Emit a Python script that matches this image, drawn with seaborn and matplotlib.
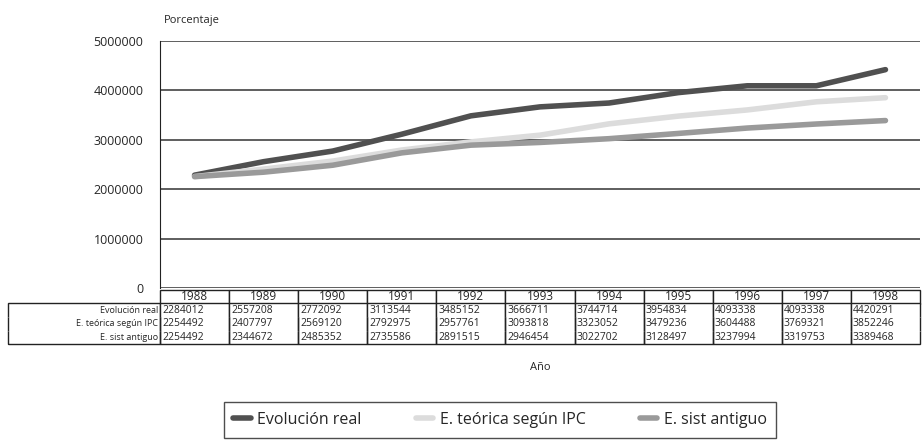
import pandas as pd
import numpy as np
import matplotlib
matplotlib.use('Agg')
import matplotlib.pyplot as plt
import seaborn as sns

# Data
years = ['1988', '1989', '1990', '1991', '1992', '1993', '1994', '1995', '1996', '1997', '1998']
evolucion_real = [2284012, 2557208, 2772092, 3113544, 3485152, 3666711, 3744714, 3954834, 4093338, 4093338, 4420291]
teorica_ipc = [2254492, 2407797, 2569120, 2792975, 2957761, 3093818, 3323052, 3479236, 3604488, 3769321, 3852246]
sist_antiguo = [2254492, 2344672, 2485352, 2735586, 2891515, 2946454, 3022702, 3128497, 3237994, 3319753, 3389468]
series_names = ['Evolución real', 'E. teórica según IPC', 'E. sist antiguo']
series_colors = ['#505050', '#dcdcdc', '#9a9a9a']

df = pd.DataFrame({'year': years,
                   series_names[0]: evolucion_real,
                   series_names[1]: teorica_ipc,
                   series_names[2]: sist_antiguo})
df['pos'] = range(len(years))
long_df = df.melt(id_vars=['year', 'pos'], var_name='serie', value_name='valor')

sns.set_style('white')
plt.rcParams['font.family'] = ['Open Sans', 'DejaVu Sans']

fig = plt.figure(figsize=(9.23, 4.41), dpi=100)
ax = fig.add_axes([160 / 923, 1 - 288 / 441, 760 / 923, 247 / 441])

sns.lineplot(data=long_df, x='pos', y='valor', hue='serie', palette=series_colors,
             hue_order=series_names, linewidth=4, ax=ax, legend=False)

ax.set_xlim(-0.5, len(years) - 0.5)
ax.set_ylim(0, 5000000)
ax.set_yticks(np.arange(0, 5000001, 1000000))
ax.set_yticklabels([str(v) for v in range(0, 5000001, 1000000)], fontsize=9)
ax.set_xticks([])
ax.set_xlabel('')
ax.set_ylabel('')
ax.grid(axis='y', color='#333333', linewidth=1.1)
for side in ['top', 'right', 'bottom']:
    ax.spines[side].set_visible(False)
ax.spines['left'].set_color('#222222')
ax.tick_params(axis='y', length=0, pad=12)

ax.text(0.005, 1.06, 'Porcentaje', transform=ax.transAxes, fontsize=8, ha='left', va='bottom')

# Data table under the axis
cell_text = [[series_names[i]] + [str(v) for v in vals]
             for i, vals in enumerate([evolucion_real, teorica_ipc, sist_antiguo])]
label_w = 152
col_w = 760 / len(years)
widths = [label_w] + [col_w] * len(years)
total_w = sum(widths)
tbl = ax.table(cellText=cell_text, colLabels=[''] + years, cellLoc='left',
               colWidths=[w / total_w for w in widths],
               bbox=[(8 - 160) / 760, -(344 - 288) / 247, 912 / 760, 54 / 247])
tbl.auto_set_font_size(False)
for (r, c), cell in tbl.get_celld().items():
    cell.set_edgecolor('#222222')
    cell.set_linewidth(1.0)
    txt = cell.get_text()
    if r == 0:
        txt.set_fontsize(8.5)
        cell.visible_edges = '' if c == 0 else 'closed'
    else:
        cell.visible_edges = {1: 'TLR', 2: 'LR', 3: 'BLR'}[r]
        if c == 0:
            cell._loc = 'right'
            txt.set_ha('right')
            cell.PAD = 0.01
            txt.set_fontsize(6.5)
        else:
            cell.PAD = 0.03
            txt.set_fontsize(7.5)

fig.text(540 / 923, 1 - 367 / 441, 'Año', fontsize=8, ha='center', va='center')

handles = [plt.Line2D([], [], color=col, linewidth=4) for col in series_colors]
fig.legend(handles, series_names, loc='center', bbox_to_anchor=(500 / 923, 1 - 420 / 441),
           ncol=3, fontsize=11.5, frameon=True, edgecolor='#222222', fancybox=False,
           handlelength=1.1, handletextpad=0.4, columnspacing=3.4, borderpad=0.6,
           borderaxespad=0)

fig.savefig('out.png', dpi=100)
